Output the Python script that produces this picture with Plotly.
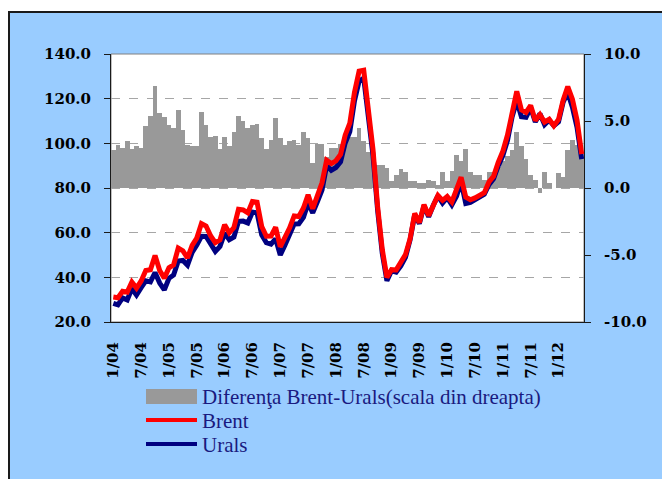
import plotly.graph_objects as go

# ---- data (monthly, Jan 2004 - Jun 2012) ----
tick_labels = ["1/04", "7/04", "1/05", "7/05", "1/06", "7/06", "1/07", "7/07", "1/08",
               "7/08", "1/09", "7/09", "1/10", "7/10", "1/11", "7/11", "1/12"]

brent = [31.18, 30.87, 33.80, 33.36, 37.92, 35.19, 38.37, 43.03, 43.38, 49.77, 43.05, 39.65,
         44.28, 45.56, 53.08, 51.86, 48.67, 54.31, 57.58, 64.09, 62.98, 58.52, 55.53, 56.75,
         63.57, 59.92, 62.25, 70.44, 70.19, 68.86, 73.90, 73.61, 62.77, 58.38, 58.46, 62.41,
         53.68, 57.56, 62.05, 67.49, 67.21, 71.05, 76.93, 70.76, 77.17, 82.34, 92.41, 90.93,
         92.18, 94.99, 103.64, 109.07, 122.80, 132.32, 132.72, 113.24, 97.23, 71.58, 52.45, 39.95,
         43.44, 43.32, 46.54, 50.18, 57.30, 68.61, 64.44, 72.51, 67.65, 72.77, 76.66, 74.46,
         76.17, 73.75, 78.83, 84.82, 75.95, 74.76, 75.58, 77.04, 77.84, 82.67, 85.28, 91.45,
         96.52, 103.72, 114.64, 123.26, 114.99, 113.83, 116.97, 110.22, 112.83, 109.55, 110.77, 107.87,
         110.69, 119.33, 125.45, 119.75, 110.34, 95.16]

urals = [28.38, 27.67, 30.80, 29.86, 35.02, 32.09, 35.37, 38.43, 37.98, 42.17, 37.45, 34.35,
         39.58, 41.06, 47.28, 47.56, 45.47, 51.21, 54.48, 58.39, 58.28, 54.72, 51.63, 53.85,
         59.77, 56.82, 58.05, 65.04, 65.19, 64.36, 69.20, 68.81, 59.07, 55.48, 54.86, 57.21,
         49.98, 54.36, 58.55, 63.89, 64.01, 66.85, 73.23, 68.86, 73.87, 79.04, 90.11, 87.93,
         89.18, 91.69, 100.14, 105.27, 119.00, 127.82, 129.22, 110.54, 94.63, 69.88, 50.75, 38.45,
         42.94, 42.32, 45.14, 48.98, 56.80, 68.11, 64.09, 72.11, 67.05, 72.27, 76.46, 73.26,
         75.67, 72.45, 76.33, 82.82, 73.05, 73.56, 74.58, 76.04, 77.24, 81.47, 84.08, 89.85,
         94.52, 101.32, 111.84, 119.06, 111.89, 111.63, 115.97, 109.62, 113.23, 108.35, 110.42, 107.87,
         109.59, 118.48, 122.65, 116.15, 107.14, 92.96]

diff = [2.8, 3.2, 3.0, 3.5, 2.9, 3.1, 3.0, 4.6, 5.4, 7.6, 5.6, 5.3,
        4.7, 4.5, 5.8, 4.3, 3.2, 3.1, 3.1, 5.7, 4.7, 3.8, 3.9, 2.9,
        3.8, 3.1, 4.2, 5.4, 5.0, 4.5, 4.7, 4.8, 3.7, 2.9, 3.6, 5.2,
        3.7, 3.2, 3.5, 3.6, 3.2, 4.2, 3.7, 1.9, 3.3, 3.3, 2.3, 3.0,
        3.0, 3.3, 3.5, 3.8, 3.8, 4.5, 3.5, 2.7, 2.6, 1.7, 1.7, 1.5,
        0.5, 1.0, 1.4, 1.2, 0.5, 0.5, 0.35, 0.4, 0.6, 0.5, 0.2, 1.2,
        0.5, 1.3, 2.5, 2.0, 2.9, 1.2, 1.0, 1.0, 0.6, 1.2, 1.2, 1.6,
        2.0, 2.4, 2.8, 4.2, 3.1, 2.2, 1.0, 0.6, -0.4, 1.2, 0.35, 0.0,
        1.1, 0.85, 2.8, 3.6, 3.2, 2.2]

left_ticks = [20, 40, 60, 80, 100, 120, 140]
right_ticks = [-10, -5, 0, 5, 10]
right_ticktext = ["-10.0", "-5.0", "0.0", "5.0", "10.0"]
legend_names = ["Diferenţa Brent-Urals(scala din dreapta)", "Brent", "Urals"]

# ---- geometry (page has an 8px body margin) ----
OFF = 8
W, H = 662, 471
L, T = 111 - OFF, 54 - OFF
R = W - (584 - OFF)
B = H - (322 - OFF)
PW, PH = W - L - R, H - T - B


def px(x):  # page pixel -> paper x
    return (x - OFF - L) / PW


def py(y):  # page pixel -> paper y
    return (H - B - (y - OFF)) / PH


idx = list(range(len(brent)))

fig = go.Figure()
fig.add_trace(go.Bar(x=idx, y=diff, yaxis="y", marker=dict(color="#999999", line=dict(width=0)),
                     name=legend_names[0], showlegend=False))
fig.add_trace(go.Scatter(x=idx, y=urals, yaxis="y2", mode="lines",
                         line=dict(color="#000080", width=5), name=legend_names[2], showlegend=False))
fig.add_trace(go.Scatter(x=idx, y=brent, yaxis="y2", mode="lines",
                         line=dict(color="#FF0000", width=5), name=legend_names[1], showlegend=False))

tickfont = dict(family="DejaVu Serif", size=15, color="black", weight="bold")

shapes = [
    # blue frame background
    dict(type="rect", xref="paper", yref="paper", x0=px(9), x1=px(700), y0=py(520), y1=py(12),
         fillcolor="#99CCFF", line=dict(color="#1a1a1a", width=2), layer="below"),
    # white plot area
    dict(type="rect", xref="paper", yref="paper", x0=0, x1=1, y0=0, y1=1,
         fillcolor="white", line=dict(color="#808080", width=1), layer="below"),
    # legend swatches
    dict(type="rect", xref="paper", yref="paper", x0=px(146), x1=px(197), y0=py(404), y1=py(389),
         fillcolor="#999999", line=dict(width=0)),
    dict(type="line", xref="paper", yref="paper", x0=px(146), x1=px(197), y0=py(420), y1=py(420),
         line=dict(color="#FF0000", width=4)),
    dict(type="line", xref="paper", yref="paper", x0=px(146), x1=px(197), y0=py(444), y1=py(444),
         line=dict(color="#000080", width=4)),
]

annotations = []
for name, yy in zip(legend_names, [397, 421, 445]):
    annotations.append(dict(text=name, xref="paper", yref="paper", x=px(200), y=py(yy),
                            xanchor="left", yanchor="middle", showarrow=False,
                            font=dict(family="Liberation Serif", size=21, color="#1a1a80")))

fig.update_layout(
    width=W, height=H,
    margin=dict(l=L, r=R, t=T, b=B, pad=0),
    paper_bgcolor="white",
    plot_bgcolor="rgba(0,0,0,0)",
    bargap=0,
    showlegend=False,
    shapes=shapes,
    annotations=annotations,
    xaxis=dict(range=[-0.5, len(brent) - 0.5], tickmode="array",
               tickvals=[i * 6 for i in range(len(tick_labels))], ticktext=tick_labels,
               tickangle=-90, tickfont=dict(family="DejaVu Serif", size=15, color="black", weight="bold"),
               showline=True, linecolor="#1a1a1a", linewidth=1, showgrid=False, zeroline=False,
               ticks="", ticklabelstandoff=13),
    yaxis=dict(side="right", range=[-10, 10], tickmode="array", tickvals=right_ticks,
               ticktext=right_ticktext, tickfont=tickfont, ticks="outside", ticklen=6,
               tickcolor="#1a1a1a", showline=True, linecolor="#1a1a1a", linewidth=1,
               showgrid=False, zeroline=False, ticklabelstandoff=10),
    yaxis2=dict(side="left", overlaying="y", range=[20, 140], tickmode="array", tickvals=left_ticks,
                tickformat=".1f", tickfont=tickfont, ticks="outside", ticklen=6,
                tickcolor="#1a1a1a", showline=True, linecolor="#1a1a1a", linewidth=1,
                showgrid=True, gridcolor="#A6A6A6", griddash="dash", gridwidth=1,
                zeroline=False, ticklabelstandoff=10),
)

fig.write_html("out.html")
